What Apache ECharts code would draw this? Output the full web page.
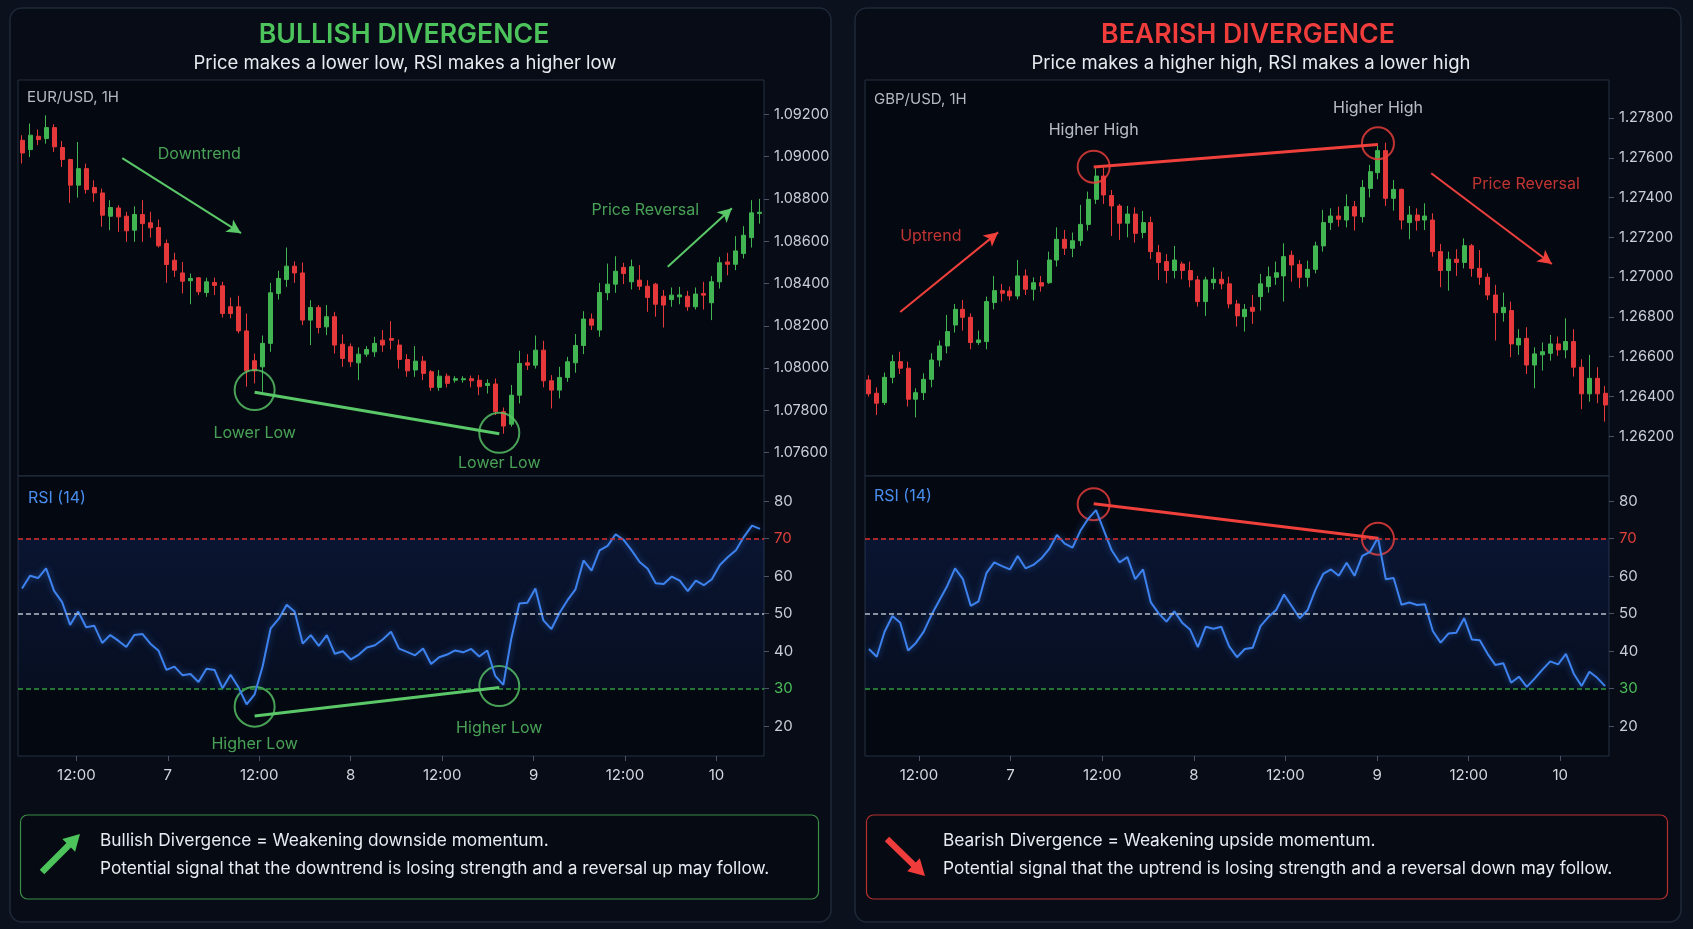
<!DOCTYPE html>
<html>
<head>
<meta charset="utf-8">
<title>RSI Divergence</title>
<script src="https://cdn.jsdelivr.net/npm/echarts@6/dist/echarts.min.js"></script>
<style>
  html, body { margin: 0; padding: 0; background: #0b111d; }
  #main { width: 1693px; height: 929px; }
</style>
</head>
<body>
<div id="main"></div>
<script>
// EUR/USD 1H candles
var eurOpen = [1.09077,1.09033,1.09096,1.09085,1.09137,1.09043,1.08986,1.08865,1.08943,1.08854,
  1.08828,1.08718,1.08757,1.08718,1.08652,1.08726,1.08687,1.08665,1.08589,1.08510,
  1.08450,1.08413,1.08427,1.08357,1.08405,1.08389,1.08290,1.08290,1.08176,1.08035,
  1.08006,1.08117,1.08353,1.08419,1.08482,1.08450,1.08227,1.08287,1.08195,1.08243,
  1.08113,1.08101,1.08025,1.08066,1.08077,1.08132,1.08140,1.08109,1.08041,1.07991,
  1.08033,1.07983,1.07909,1.07962,1.07943,1.07945,1.07950,1.07943,1.07918,1.07925,
  1.07794,1.07735,1.07872,1.08025,1.08014,1.08085,1.07940,1.07896,1.07956,1.08025,
  1.08107,1.08232,1.08180,1.08356,1.08397,1.08476,1.08408,1.08416,1.08387,1.08397,
  1.08340,1.08324,1.08337,1.08340,1.08290,1.08353,1.08309,1.08408,1.08502,1.08491,
  1.08542,1.08617,1.08731];
var eurClose = [1.09017,1.09101,1.09080,1.09137,1.09046,1.08986,1.08865,1.08943,1.08844,1.08828,
  1.08723,1.08759,1.08715,1.08649,1.08726,1.08683,1.08663,1.08578,1.08490,1.08463,
  1.08411,1.08424,1.08361,1.08408,1.08391,1.08258,1.08258,1.08176,1.07987,1.07987,
  1.08117,1.08356,1.08424,1.08482,1.08450,1.08227,1.08287,1.08192,1.08243,1.08109,
  1.08046,1.08030,1.08066,1.08088,1.08117,1.08109,1.08132,1.08041,1.07987,1.08033,
  1.07975,1.07909,1.07962,1.07928,1.07950,1.07950,1.07940,1.07912,1.07928,1.07794,
  1.07726,1.07872,1.08022,1.08014,1.08085,1.07940,1.07896,1.07956,1.08030,1.08107,
  1.08232,1.08203,1.08357,1.08397,1.08458,1.08447,1.08479,1.08387,1.08334,1.08302,
  1.08298,1.08345,1.08346,1.08290,1.08350,1.08345,1.08408,1.08498,1.08491,1.08554,
  1.08628,1.08734,1.08737];
var eurLow = [1.08967,1.08998,1.09054,1.09061,1.09022,1.08951,1.08781,1.08806,1.08825,1.08786,
  1.08668,1.08652,1.08644,1.08597,1.08597,1.08597,1.08617,1.08570,1.08403,1.08431,
  1.08353,1.08302,1.08345,1.08337,1.08345,1.08239,1.08235,1.08164,1.07912,1.07928,
  1.07888,1.08077,1.08324,1.08384,1.08403,1.08203,1.08109,1.08164,1.08156,1.08069,
  1.08006,1.08006,1.07943,1.08053,1.08053,1.08077,1.08088,1.07998,1.07959,1.07959,
  1.07943,1.07893,1.07893,1.07909,1.07931,1.07931,1.07909,1.07872,1.07880,1.07778,
  1.07690,1.07723,1.07833,1.07991,1.07998,1.07909,1.07809,1.07857,1.07935,1.07978,
  1.08066,1.08180,1.08148,1.08321,1.08356,1.08397,1.08372,1.08369,1.08266,1.08243,
  1.08192,1.08290,1.08302,1.08271,1.08277,1.08277,1.08227,1.08376,1.08439,1.08463,
  1.08518,1.08570,1.08683];
var eurHigh = [1.09101,1.09156,1.09128,1.09195,1.09153,1.09074,1.08990,1.09069,1.08967,1.08888,
  1.08849,1.08794,1.08770,1.08739,1.08765,1.08794,1.08739,1.08702,1.08608,1.08545,
  1.08502,1.08447,1.08431,1.08427,1.08428,1.08408,1.08334,1.08342,1.08258,1.08069,
  1.08154,1.08403,1.08460,1.08570,1.08505,1.08499,1.08321,1.08298,1.08298,1.08266,
  1.08159,1.08117,1.08098,1.08104,1.08148,1.08180,1.08222,1.08135,1.08066,1.08104,
  1.08057,1.07991,1.07991,1.07975,1.07962,1.07962,1.07965,1.07967,1.07947,1.07951,
  1.07814,1.07920,1.08082,1.08066,1.08154,1.08129,1.07967,1.08006,1.08053,1.08161,
  1.08269,1.08258,1.08403,1.08494,1.08529,1.08498,1.08513,1.08487,1.08416,1.08403,
  1.08369,1.08381,1.08384,1.08365,1.08381,1.08408,1.08435,1.08526,1.08545,1.08624,
  1.08671,1.08794,1.08800];
var eurRsi = [56.7,60.1,59.5,62.1,56.1,53.1,47.0,50.6,46.4,46.8,
  42.2,44.3,42.8,41.1,44.3,44.6,42.0,40.2,35.0,35.9,
  33.6,33.9,31.8,35.3,35.0,30.1,33.7,30.3,25.8,28.5,
  36.0,46.1,48.6,52.4,50.5,42.0,44.3,41.4,44.3,39.3,
  40.0,37.8,39.1,41.0,41.6,43.2,45.2,40.7,39.8,38.9,
  40.7,36.6,38.4,39.1,40.2,39.7,40.6,38.6,40.2,33.4,
  31.0,43.4,52.7,52.9,56.7,48.2,45.9,50.2,53.6,56.5,
  64.2,61.5,66.9,68.1,71.2,69.7,66.9,63.8,62.0,58.1,
  57.9,59.9,58.8,56.0,58.8,57.6,59.2,63.0,65.1,66.9,
  70.5,73.5,72.6];

// GBP/USD 1H candles
var gbpOpen = [1.26483,1.26416,1.26369,1.26496,1.26575,1.26542,1.26386,1.26419,1.26486,1.26583,
  1.26654,1.26759,1.26838,1.26798,1.26671,1.26676,1.26872,1.26932,1.26930,1.26905,
  1.27006,1.26939,1.26972,1.26972,1.27086,1.27190,1.27145,1.27183,1.27265,1.27391,
  1.27508,1.27410,1.27358,1.27271,1.27317,1.27224,1.27274,1.27123,1.27078,1.27033,
  1.27066,1.27033,1.26986,1.26877,1.26972,1.26989,1.26966,1.26865,1.26801,1.26848,
  1.26902,1.26952,1.26999,1.27006,1.27110,1.27064,1.26999,1.27039,1.27157,1.27274,
  1.27307,1.27287,1.27354,1.27304,1.27446,1.27525,1.27636,1.27396,1.27441,1.27274,
  1.27312,1.27287,1.27287,1.27128,1.27033,1.27090,1.27074,1.27158,1.27044,1.26999,
  1.26910,1.26821,1.26832,1.26659,1.26692,1.26558,1.26609,1.26617,1.26664,1.26634,
  1.26676,1.26547,1.26413,1.26491,1.26416];
var gbpClose = [1.26413,1.26366,1.26496,1.26575,1.26542,1.26386,1.26419,1.26486,1.26583,1.26654,
  1.26726,1.26838,1.26798,1.26671,1.26684,1.26877,1.26932,1.26919,1.26905,1.27006,
  1.26939,1.26972,1.26955,1.27086,1.27190,1.27145,1.27183,1.27265,1.27391,1.27508,
  1.27413,1.27358,1.27271,1.27317,1.27220,1.27274,1.27128,1.27073,1.27033,1.27086,
  1.27033,1.26986,1.26877,1.26986,1.26989,1.26966,1.26865,1.26805,1.26838,1.26828,
  1.26966,1.27002,1.27022,1.27103,1.27061,1.26999,1.27039,1.27157,1.27274,1.27307,
  1.27291,1.27354,1.27307,1.27451,1.27530,1.27636,1.27396,1.27441,1.27287,1.27312,
  1.27284,1.27307,1.27128,1.27033,1.27090,1.27074,1.27158,1.27044,1.26999,1.26910,
  1.26821,1.26848,1.26664,1.26692,1.26558,1.26614,1.26625,1.26664,1.26634,1.26676,
  1.26547,1.26413,1.26491,1.26413,1.26357];
var gbpLow = [1.26399,1.26307,1.26357,1.26466,1.26513,1.26349,1.26295,1.26382,1.26446,1.26550,
  1.26617,1.26721,1.26731,1.26637,1.26659,1.26637,1.26838,1.26877,1.26882,1.26888,
  1.26910,1.26882,1.26927,1.26966,1.27053,1.27111,1.27100,1.27157,1.27234,1.27368,
  1.27368,1.27207,1.27187,1.27200,1.27173,1.27195,1.27090,1.26986,1.26969,1.26994,
  1.26989,1.26949,1.26852,1.26805,1.26939,1.26939,1.26843,1.26751,1.26726,1.26765,
  1.26832,1.26922,1.26961,1.26877,1.26977,1.26944,1.26952,1.27019,1.27128,1.27237,
  1.27254,1.27250,1.27234,1.27274,1.27401,1.27492,1.27358,1.27334,1.27240,1.27190,
  1.27234,1.27237,1.27103,1.26949,1.26932,1.27006,1.27044,1.27002,1.26961,1.26885,
  1.26681,1.26776,1.26597,1.26609,1.26513,1.26441,1.26530,1.26580,1.26604,1.26592,
  1.26500,1.26336,1.26374,1.26366,1.26273];
var gbpHigh = [1.26506,1.26446,1.26520,1.26609,1.26625,1.26575,1.26441,1.26516,1.26617,1.26681,
  1.26810,1.26865,1.26885,1.26818,1.26731,1.26902,1.27006,1.26966,1.26952,1.27086,
  1.27039,1.26999,1.27006,1.27128,1.27250,1.27237,1.27224,1.27363,1.27430,1.27547,
  1.27552,1.27438,1.27368,1.27358,1.27351,1.27333,1.27304,1.27162,1.27116,1.27157,
  1.27078,1.27078,1.27006,1.27002,1.27049,1.27028,1.27002,1.26885,1.26865,1.26910,
  1.27016,1.27053,1.27078,1.27170,1.27133,1.27086,1.27083,1.27178,1.27338,1.27346,
  1.27354,1.27416,1.27383,1.27488,1.27564,1.27664,1.27676,1.27488,1.27446,1.27358,
  1.27346,1.27371,1.27321,1.27167,1.27128,1.27140,1.27195,1.27167,1.27136,1.27019,
  1.26961,1.26922,1.26877,1.26738,1.26748,1.26647,1.26671,1.26709,1.26701,1.26793,
  1.26738,1.26587,1.26609,1.26547,1.26453];
var gbpRsi = [40.6,38.5,45.2,49.4,47.6,40.2,42.2,45.2,49.7,53.6,
  57.4,62.1,59.2,52.1,53.3,60.8,63.7,62.7,61.8,65.4,
  62.1,63.0,64.7,67.2,71.0,68.7,67.6,72.1,75.3,77.6,
  72.2,66.9,63.7,65.1,59.2,61.8,53.0,50.1,47.9,50.6,
  47.6,45.8,41.1,46.5,46.0,46.5,41.3,38.4,40.6,40.9,
  46.7,49.1,51.0,55.1,52.0,48.8,50.9,56.3,60.6,61.8,
  60.1,63.6,60.1,65.4,66.5,70.3,59.2,59.5,52.4,53.0,
  52.3,52.5,45.4,42.3,44.7,44.9,48.8,43.1,42.9,39.3,
  36.3,36.8,31.6,33.2,30.5,32.7,35.1,37.3,36.5,39.3,
  34.0,30.7,34.5,32.9,30.7];

// tick labels
var hourTicks = [12, 24, 36, 48, 60, 72, 84, 96];
var hourLabels = ['12:00', '7', '12:00', '8', '12:00', '9', '12:00', '10'];
var eurTicks = [1.076, 1.078, 1.080, 1.082, 1.084, 1.086, 1.088, 1.090, 1.092];
var gbpTicks = [1.262, 1.264, 1.266, 1.268, 1.270, 1.272, 1.274, 1.276, 1.278];
var rsiTicks = [20, 30, 40, 50, 60, 70, 80];
var rsiLevels = [70, 50, 30];

// annotation anchors: [candle index, value]
var eurPivots = [[29.0, 1.07886], [59.5, 1.07690]];
var eurRsiPivots = [[29.0, 22.7], [59.5, 30.3]];
var eurTrendArrow = [[12.5, 1.08993], [27.3, 1.08638]];
var eurRevArrow = [[80.5, 1.08479], [88.5, 1.08756]];
var gbpPivots = [[28.7, 1.27553], [65.0, 1.27667]];
var gbpRsiPivots = [[28.7, 79.3], [65.0, 70.1]];
var gbpTrendArrow = [[4.0, 1.26825], [16.5, 1.27225]];
var gbpRevArrow = [[71.8, 1.27522], [87.2, 1.27066]];

var UP = '#41b552', DOWN = '#e5383a';
var GREEN = '#5ac868', RED = '#f0403c';
var FONT = 'Inter, "Noto Sans", sans-serif';

var grids = [], xAxes = [], yAxes = [], series = [];

function candles(o, c, l, h) {
  return o.map(function (v, i) { return [v, c[i], l[i], h[i]]; });
}
function indexNames(n) {
  var a = [];
  for (var i = 0; i < n; i++) a.push(String(i));
  return a;
}
function ring(pt, size, color) {
  return { value: pt, symbol: 'circle', symbolSize: size,
    itemStyle: { color: 'rgba(0,0,0,0)', borderColor: color, borderWidth: 2 } };
}
function note(pt, text, color) {
  return { value: pt, symbolSize: 1, itemStyle: { color: 'rgba(0,0,0,0)' },
    label: { show: true, position: 'inside', formatter: text, color: color, fontSize: 16, fontFamily: FONT } };
}
function seg(a, b, color, width, arrow) {
  return [{ coord: a, symbol: 'none', lineStyle: { color: color, width: width, type: 'solid' } },
          { coord: b, symbol: arrow ? 'arrow' : 'none', symbolSize: arrow ? [11, 14] : 0 }];
}

function addPanel(p) {
  var g = grids.length, x = xAxes.length, y = yAxes.length;
  var n = p.open.length, cats = indexNames(n);
  var gridBase = { left: p.left, width: p.width, show: true, backgroundColor: '#040811',
    borderColor: '#273142', borderWidth: 1, containLabel: false, outerBoundsMode: 'none' };
  grids.push(Object.assign({ top: 80, height: 396 }, gridBase));
  grids.push(Object.assign({ top: 476, height: 280 }, gridBase));

  var hidden = { show: false, axisLine: { onZero: false } };
  xAxes.push(Object.assign({ type: 'category', gridIndex: g, data: cats }, hidden));
  xAxes.push(Object.assign({ type: 'value', gridIndex: g, min: -0.5, max: n - 0.5 }, hidden));
  xAxes.push(Object.assign({ type: 'category', gridIndex: g + 1, data: cats }, hidden));
  xAxes.push(Object.assign({ type: 'value', gridIndex: g + 1, min: -0.5, max: n - 0.5 }, hidden));
  xAxes.push({ type: 'value', gridIndex: g + 1, min: p.hourMin, max: p.hourMax, position: 'bottom',
    splitLine: { show: false }, axisLine: { show: false, onZero: false },
    axisTick: { show: true, length: 5, customValues: hourTicks, lineStyle: { color: '#4a5466' } },
    axisLabel: { customValues: hourTicks, margin: 12, color: '#d3d7de', fontSize: 15, fontFamily: FONT,
      formatter: function (v) { return hourLabels[hourTicks.indexOf(Math.round(v))]; } } });

  yAxes.push({ type: 'value', gridIndex: g, min: p.pMin, max: p.pMax, position: 'right',
    splitLine: { show: false }, axisLine: { show: false, onZero: false },
    axisTick: { show: true, length: 5, customValues: p.ticks, lineStyle: { color: '#4a5466' } },
    axisLabel: { customValues: p.ticks, margin: 10, color: '#c9ced6', fontSize: 14.5, fontFamily: FONT,
      formatter: function (v) { return v.toFixed(5); } } });
  yAxes.push({ type: 'value', gridIndex: g + 1, min: 12.05, max: 86.72, position: 'right',
    splitLine: { show: false }, axisLine: { show: false, onZero: false },
    axisTick: { show: true, length: 5, customValues: rsiTicks, lineStyle: { color: '#4a5466' } },
    axisLabel: { customValues: rsiTicks, margin: 10, fontSize: 15, fontFamily: FONT,
      color: function (v) { v = Math.round(v); return v === 70 ? '#e0403b' : v === 30 ? '#4cbf5a' : '#c9ced6'; } } });

  series.push({ type: 'candlestick', xAxisIndex: x, yAxisIndex: y, barWidth: 4.5,
    data: candles(p.open, p.close, p.low, p.high),
    itemStyle: { color: UP, color0: DOWN, borderColor: UP, borderColor0: DOWN, borderWidth: 1 } });

  series.push({ type: 'line', xAxisIndex: x + 2, yAxisIndex: y + 1, data: p.rsi, symbol: 'none',
    lineStyle: { color: '#3d82ee', width: 2, shadowColor: 'rgba(60,130,240,0.55)', shadowBlur: 6 },
    markArea: { silent: true, itemStyle: { color: { type: 'linear', x: 0, y: 0, x2: 0, y2: 1,
        colorStops: [{ offset: 0, color: 'rgba(28,62,150,0.24)' }, { offset: 1, color: 'rgba(28,62,150,0.12)' }] } },
      data: [[{ yAxis: 30 }, { yAxis: 70 }]] },
    markLine: { silent: true, symbol: ['none', 'none'], label: { show: false },
      lineStyle: { type: [5, 3], width: 1.5 },
      data: [{ yAxis: rsiLevels[0], lineStyle: { color: '#d9302e' } },
             { yAxis: rsiLevels[1], lineStyle: { color: '#b8bec7' } },
             { yAxis: rsiLevels[2], lineStyle: { color: '#2e9a3d' } }] } });

  // annotations on the price pane
  series.push({ type: 'scatter', xAxisIndex: x + 1, yAxisIndex: y, silent: true, clip: false,
    data: p.priceNotes,
    markLine: { silent: true, label: { show: false }, data: p.priceLines } });
  // annotations on the RSI pane
  series.push({ type: 'scatter', xAxisIndex: x + 3, yAxisIndex: y + 1, silent: true, clip: false,
    data: p.rsiNotes,
    markLine: { silent: true, label: { show: false }, data: p.rsiLines } });
}

addPanel({
  left: 18, width: 746, hourMin: 4.34, hourMax: 102.24,
  open: eurOpen, close: eurClose, low: eurLow, high: eurHigh, rsi: eurRsi,
  pMin: 1.07490, pMax: 1.09362, ticks: eurTicks,
  priceNotes: [
    ring([eurPivots[0][0], 1.07896], 40, GREEN), ring([eurPivots[1][0], 1.07694], 40, GREEN),
    note([eurPivots[0][0], 1.07694], 'Lower Low', GREEN), note([eurPivots[1][0], 1.07550], 'Lower Low', GREEN),
    note([22.1, 1.09012], 'Downtrend', GREEN), note([77.7, 1.08748], 'Price Reversal', GREEN)
  ],
  priceLines: [
    seg(eurPivots[0], eurPivots[1], GREEN, 3, false),
    seg(eurTrendArrow[0], eurTrendArrow[1], GREEN, 2, true),
    seg(eurRevArrow[0], eurRevArrow[1], GREEN, 2, true)
  ],
  rsiNotes: [
    ring([eurRsiPivots[0][0], 25.2], 40, GREEN), ring([eurRsiPivots[1][0], 30.7], 40, GREEN),
    note([eurRsiPivots[0][0], 15.2], 'Higher Low', GREEN), note([eurRsiPivots[1][0], 19.4], 'Higher Low', GREEN)
  ],
  rsiLines: [seg(eurRsiPivots[0], eurRsiPivots[1], GREEN, 3, false)]
});

addPanel({
  left: 865, width: 744, hourMin: 4.94, hourMax: 102.38,
  open: gbpOpen, close: gbpClose, low: gbpLow, high: gbpHigh, rsi: gbpRsi,
  pMin: 1.26000, pMax: 1.27991, ticks: gbpTicks,
  priceNotes: [
    ring([gbpPivots[0][0], 1.27555], 32, RED), ring([gbpPivots[1][0], 1.27673], 32, RED),
    note([gbpPivots[0][0], 1.27740], 'Higher High', '#e6e9ee'), note([gbpPivots[1][0], 1.27849], 'Higher High', '#e6e9ee'),
    note([7.9, 1.27207], 'Uptrend', RED), note([83.9, 1.27468], 'Price Reversal', RED)
  ],
  priceLines: [
    seg(gbpPivots[0], gbpPivots[1], RED, 3, false),
    seg(gbpTrendArrow[0], gbpTrendArrow[1], RED, 2, true),
    seg(gbpRevArrow[0], gbpRevArrow[1], RED, 2, true)
  ],
  rsiNotes: [
    ring([gbpRsiPivots[0][0], 79.2], 32, RED), ring([gbpRsiPivots[1][0], 70.0], 32, RED)
  ],
  rsiLines: [seg(gbpRsiPivots[0], gbpRsiPivots[1], RED, 3, false)]
});

function txt(x, y, s, color, font, align) {
  return { type: 'text', x: x, y: y, silent: true,
    style: { text: s, fill: color, font: font, textAlign: align || 'left', textVerticalAlign: 'middle', verticalAlign: 'middle' } };
}
function card(x, y, w, h, r, fill, stroke, lw) {
  return { type: 'rect', silent: true, z: -10, shape: { x: x, y: y, width: w, height: h, r: r },
    style: { fill: fill, stroke: stroke, lineWidth: lw } };
}

var graphics = [
  card(10, 8, 821, 914, 12, '#070c17', '#1f2837', 1.5),
  card(855, 8, 826, 914, 12, '#070c17', '#1f2837', 1.5),
  card(20.5, 815, 798, 84, 7, '#050a13', '#3a8f45', 1.2),
  card(866.5, 815, 801, 84, 7, '#050a13', '#b8302e', 1.2),
  txt(404, 35, 'BULLISH DIVERGENCE', '#4cc35b', '600 26.7px ' + FONT, 'center'),
  txt(405, 63, 'Price makes a lower low, RSI makes a higher low', '#e7eaee', '18.5px ' + FONT, 'center'),
  txt(1248, 35, 'BEARISH DIVERGENCE', '#f03c3a', '600 26.7px ' + FONT, 'center'),
  txt(1251, 63, 'Price makes a higher high, RSI makes a lower high', '#e7eaee', '18.5px ' + FONT, 'center'),
  txt(27, 97, 'EUR/USD, 1H', '#b4bac3', '15px ' + FONT),
  txt(874, 99, 'GBP/USD, 1H', '#b4bac3', '15px ' + FONT),
  txt(28, 498, 'RSI (14)', '#4a8ff0', '16px ' + FONT),
  txt(874, 496, 'RSI (14)', '#4a8ff0', '16px ' + FONT),
  txt(100, 841, 'Bullish Divergence = Weakening downside momentum.', '#e8ebef', '17.3px ' + FONT),
  txt(100, 869, 'Potential signal that the downtrend is losing strength and a reversal up may follow.', '#e8ebef', '17.3px ' + FONT),
  txt(943, 841, 'Bearish Divergence = Weakening upside momentum.', '#e8ebef', '17.3px ' + FONT),
  txt(943, 869, 'Potential signal that the uptrend is losing strength and a reversal down may follow.', '#e8ebef', '17.3px ' + FONT),
  { type: 'polygon', silent: true, shape: { points: [[44.3, 874.3], [71.0, 847.6], [75.1, 851.7], [80, 834], [62.3, 838.9], [66.4, 843.0], [39.7, 869.7]] },
    style: { fill: '#4cc35b' } },
  { type: 'polygon', silent: true, shape: { points: [[884.8, 841.3], [911.3, 867.1], [907.2, 871.3], [925, 876], [919.8, 858.3], [915.7, 862.5], [889.2, 836.7]] },
    style: { fill: '#f03c3a' } }
];

var chart = echarts.init(document.getElementById('main'));
chart.setOption({
  backgroundColor: '#0b111d',
  animation: false,
  textStyle: { fontFamily: FONT },
  graphic: graphics,
  grid: grids,
  xAxis: xAxes,
  yAxis: yAxes,
  series: series
});
</script>
</body>
</html>
